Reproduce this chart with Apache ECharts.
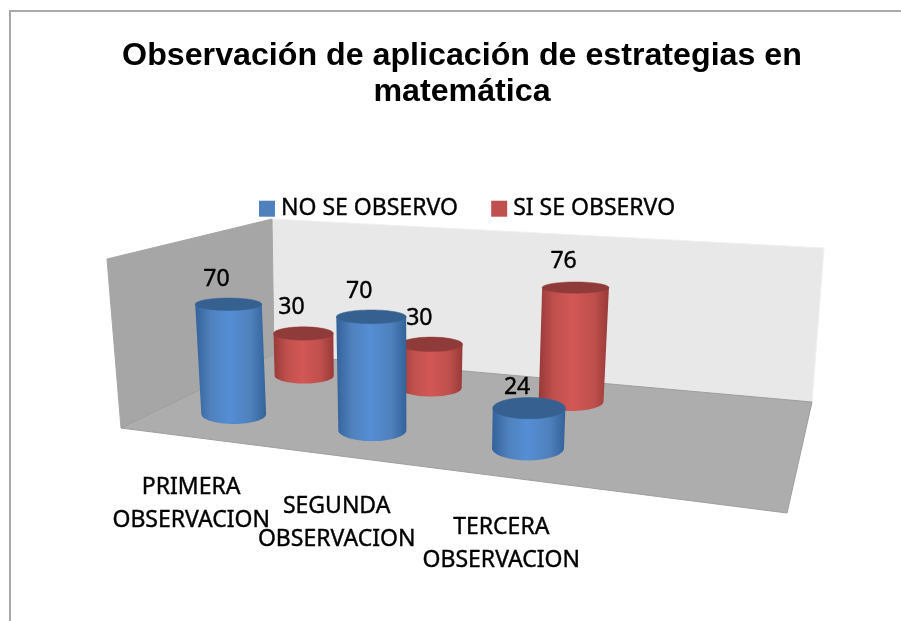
<!DOCTYPE html>
<html><head><meta charset="utf-8">
<style>html,body{margin:0;padding:0;background:#fff}#c{width:901px;height:621px}</style>
<script src="https://cdn.jsdelivr.net/npm/echarts@6/dist/echarts.min.js"></script>
</head><body><div id="c"></div>
<script>
const chartTitle = 'Observación de aplicación de estrategias en\nmatemática';
const categories = ['PRIMERA\nOBSERVACION', 'SEGUNDA\nOBSERVACION', 'TERCERA\nOBSERVACION'];
const seriesNames = ['NO SE OBSERVO', 'SI SE OBSERVO'];
const noObservo = [70, 70, 24];
const siObservo = [30, 30, 76];
const axisMax = 104;

const TEXT_FONT = '"Noto Sans"';
const floorQuad = [[121,428],[787,513],[812,402],[274,354]];
const cornerRise = [[-14,-169],[14,-190],[12,-154],[-2,-135]];
function homography(q){
  const [p0,p1,p2,p3]=q;
  const dx1=p1[0]-p2[0],dx2=p3[0]-p2[0],sx=p0[0]-p1[0]+p2[0]-p3[0];
  const dy1=p1[1]-p2[1],dy2=p3[1]-p2[1],sy=p0[1]-p1[1]+p2[1]-p3[1];
  const den=dx1*dy2-dx2*dy1;
  const g=(sx*dy2-dx2*sy)/den,h=(dx1*sy-sx*dy1)/den;
  const a=p1[0]-p0[0]+g*p1[0],b=p3[0]-p0[0]+h*p3[0],c=p0[0];
  const d=p1[1]-p0[1]+g*p1[1],e=p3[1]-p0[1]+h*p3[1],f=p0[1];
  return (u,v)=>{const w=g*u+h*v+1;return [(a*u+b*v+c)/w,(d*u+e*v+f)/w];};
}
const floorH=homography(floorQuad);
function rise(u,v,k){
  const c=cornerRise;
  return (c[0][k]*(1-u)+c[1][k]*u)*(1-v)+(c[3][k]*(1-u)+c[2][k]*u)*v;
}
function project(u,v,t){
  const a=floorH(u,v);
  return [a[0]+rise(u,v,0)*t,a[1]+rise(u,v,1)*t];
}
const RU=0.058,RV=0.115,USHIFT=0.008,UMID=0.383;
const rows=[0.25,0.75];
const palettes=[
  {base:'#4F81BD',top:'#36608F',edge:'#34629A',light:'#558ED5'},
  {base:'#C0504D',top:'#8E3B39',edge:'#983A38',light:'#D25755'}
];
function uhOf(api,cs,i,val){
  const p=api.coord([i,val]);
  return [(p[0]-cs.x)/cs.width+USHIFT,(cs.y+cs.height-p[1])/cs.height];
}
function widthAt(u,v){
  return Math.abs(floorH(u+RU,v)[0]-floorH(u-RU,v)[0])/2;
}
function ell(u,v,t){
  const c=project(u,v,t);
  const f=floorH(u,v-RV),b=floorH(u,v+RV);
  const w=0.45*widthAt(u,v)+0.55*widthAt(UMID,v);
  return {cx:c[0],cy:c[1],rx:w*(1+0.04*t),ry:Math.abs(f[1]-b[1])/2*(1-0.55*t)};
}
function cylinder(rowIdx){
  return function(params,api){
    const cs=params.coordSys;
    const i=api.value(0),val=api.value(1);
    const [u,t]=uhOf(api,cs,i,val);
    const v=rows[rowIdx],pal=palettes[rowIdx];
    const B=ell(u,v,0),T=ell(u,v,t);
    const pts=[[T.cx-T.rx,T.cy],[T.cx+T.rx,T.cy]];
    for(let k=0;k<=32;k++){
      const a=Math.PI*k/32;
      pts.push([B.cx+B.rx*Math.cos(a),B.cy+B.ry*Math.sin(a)]);
    }
    const grad=new echarts.graphic.LinearGradient(0,0,1,0,[
      {offset:0,color:pal.edge},{offset:0.22,color:pal.base},
      {offset:0.48,color:pal.light},{offset:0.78,color:pal.base},{offset:1,color:pal.edge}]);
    const dy=rowIdx===0?-19-9*t:-26;
    return {type:'group',children:[
      {type:'polygon',shape:{points:pts},style:{fill:grad}},
      {type:'ellipse',shape:T,style:{fill:pal.top,stroke:pal.edge,lineWidth:0.5}},
      {type:'text',z2:50,style:{text:String(val),x:T.cx-12,y:T.cy+dy,align:'center',verticalAlign:'middle',
        fontFamily:TEXT_FONT,fontSize:23,fill:'#000',stroke:'#000',lineWidth:0.4}}
    ]};
  };
}
function poly(points,fill,stroke){
  return {type:'polygon',shape:{points},style:{fill,stroke:stroke||fill,lineWidth:1}};
}
function sceneBox(){
  return {type:'group',children:[
    poly([project(0,1,0),project(1,1,0),project(1,1,1),project(0,1,1)],'#E8E8E8','#F0F0F0'),
    poly([project(0,0,0),project(0,1,0),project(0,1,1),project(0,0,1)],'#A6A6A6'),
    poly([project(0,0,0),project(1,0,0),project(1,1,0),project(0,1,0)],'#ADADAD','#9E9E9E')
  ]};
}
function catLabel(params,api){
  const cs=params.coordSys,i=api.value(0);
  const [u]=uhOf(api,cs,i,0);
  const p=project(u,0,0);
  return {type:'text',style:{text:categories[i],x:p[0]-0.5,y:p[1]+67,align:'center',verticalAlign:'middle',
    fontFamily:TEXT_FONT,fontSize:23,lineHeight:33,fill:'#000',stroke:'#000',lineWidth:0.4}};
}
const toPairs=a=>a.map((v,i)=>[i,v]);
const option={
  animation:false,
  backgroundColor:'#fff',
  title:{text:chartTitle,left:457,top:33,textAlign:'center',
    textStyle:{fontFamily:'"Liberation Sans"',fontWeight:'bold',fontSize:32.2,lineHeight:36,color:'#000'}},
  legend:{left:254,top:192,itemWidth:16,itemHeight:16,itemGap:33,icon:'rect',
    data:seriesNames,
    textStyle:{fontFamily:TEXT_FONT,fontSize:23,color:'#000',padding:[0,0,0,1],textBorderColor:'#000',textBorderWidth:0.4}},
  grid:{left:100,top:100,width:600,height:400},
  xAxis:{type:'category',data:categories.concat(['']),show:false},
  yAxis:{type:'value',min:0,max:axisMax,show:false},
  graphic:[{type:'polyline',silent:true,shape:{points:[[10,621],[10,11],[901,11]]},
    style:{stroke:'#A9A9A9',lineWidth:2,fill:null}}],
  series:[
    {type:'custom',name:'caja',coordinateSystem:'cartesian2d',z:1,silent:true,clip:false,
     data:[[0,0]],encode:{x:0,y:1},renderItem:sceneBox},
    {type:'custom',name:'rotulos',coordinateSystem:'cartesian2d',z:1,silent:true,clip:false,
     data:categories.map((c,i)=>[i,0]),encode:{x:0,y:1},renderItem:catLabel},
    {type:'custom',name:seriesNames[0],coordinateSystem:'cartesian2d',z:4,clip:false,
     itemStyle:{color:'#4F81BD'},data:toPairs(noObservo),encode:{x:0,y:1},renderItem:cylinder(0)},
    {type:'custom',name:seriesNames[1],coordinateSystem:'cartesian2d',z:3,clip:false,
     itemStyle:{color:'#C0504D'},data:toPairs(siObservo),encode:{x:0,y:1},renderItem:cylinder(1)}
  ]
};
echarts.init(document.getElementById('c'),null,{renderer:'canvas'}).setOption(option);
</script></body></html>
